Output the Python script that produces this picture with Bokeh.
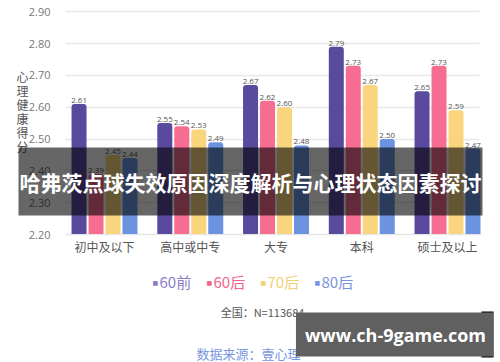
import numpy as np
from bokeh.plotting import figure
from bokeh.models import Range1d, FixedTicker, NumeralTickFormatter, Label, ColumnDataSource
from bokeh.core.properties import value
from bokeh.embed import file_html
from bokeh.resources import INLINE

categories = ["初中及以下", "高中或中专", "大专", "本科", "硕士及以上"]
series = ["60前", "60后", "70后", "80后"]
v60q = [2.61, 2.55, 2.67, 2.79, 2.65]
v60h = [2.39, 2.54, 2.62, 2.73, 2.73]
v70h = [2.45, 2.53, 2.60, 2.67, 2.59]
v80h = [2.44, 2.49, 2.48, 2.50, 2.47]
yticks = [2.2, 2.3, 2.4, 2.5, 2.6, 2.7, 2.8, 2.9]
values = [v60q, v60h, v70h, v80h]
colors = ["#5A4A9E", "#F76D92", "#F9D67E", "#6B93E0"]
legend_colors = ["#8B7CC8", "#F2648C", "#F3CF78", "#7896DE"]

FONT = "Noto Sans CJK SC"
W, H = 500, 362
# plot-area geometry (pixels) of the chart part
PL, PR, PB = 65, 479, 234
XPX = 85.75       # pixels per category
YPX = 318.3       # pixels per score unit
BASE = 2.20
X0 = -0.455 - PL / XPX
X1 = X0 + W / XPX
Y1 = BASE + PB / YPX
Y0 = Y1 - H / YPX

p = figure(width=W, height=H, output_backend="svg", toolbar_location=None,
           x_range=Range1d(X0, X1), y_range=Range1d(Y0, Y1),
           min_border_left=0, min_border_right=0, min_border_top=0, min_border_bottom=0)
p.outline_line_color = None
p.background_fill_color = "white"
p.border_fill_color = "white"

def dx(px):
    return X0 + px / XPX

def dy(py):
    return Y1 - py / YPX

xs = np.arange(len(categories))
stride = 0.198
bw = 0.175
for i, (vals, col) in enumerate(zip(values, colors)):
    off = (i - 1.5) * stride
    src = ColumnDataSource(dict(x=xs + off, top=vals, lab=[f"{v:.2f}" for v in vals]))
    p.vbar(x="x", top="top", bottom=BASE, width=bw, source=src, fill_color=col,
           line_color=None, border_radius=dict(top_left=3, top_right=3, bottom_left=0, bottom_right=0))
    p.text(x="x", y="top", text="lab", source=src, y_offset=-1, text_align="center",
           text_baseline="bottom", text_font_size="8px", text_color="#555555",
           text_font=value("Open Sans"))

# axes, fixed inside the canvas
p.yaxis.fixed_location = dx(PL)
p.yaxis.ticker = FixedTicker(ticks=yticks)
p.yaxis.formatter = NumeralTickFormatter(format="0.00")
p.yaxis.axis_line_color = None
p.yaxis.major_tick_line_color = None
p.yaxis.minor_tick_line_color = None
p.yaxis.major_label_text_font = "Open Sans"
p.yaxis.major_label_text_font_size = "11px"
p.yaxis.major_label_text_color = "#777777"
p.yaxis.major_label_standoff = 9

p.xaxis.fixed_location = BASE
p.xaxis.bounds = (dx(PL), dx(PR))
p.xaxis.ticker = FixedTicker(ticks=list(xs))
p.xaxis.major_label_overrides = {int(i): c for i, c in zip(xs, categories)}
p.xaxis.axis_line_color = "#e6e6e6"
p.xaxis.major_tick_line_color = None
p.xaxis.minor_tick_line_color = None
p.xaxis.major_label_text_font = FONT
p.xaxis.major_label_text_font_size = "12px"
p.xaxis.major_label_text_color = "#555555"
p.xaxis.major_label_standoff = -3

p.xgrid.grid_line_color = None
p.ygrid.grid_line_color = "#e8e8e8"
p.ygrid.grid_line_width = 1.5
p.ygrid.cross_bounds = (dx(PL), dx(PR))

# vertical y-axis title
p.add_layout(Label(x=dx(22), y=dy(111), text="\n".join("心理健康得分"), text_align="center",
                   text_baseline="middle", text_font=FONT, text_font_size="12px",
                   text_color="#555555", text_line_height=0.83))

# legend
for i, (s, lc) in enumerate(zip(series, legend_colors)):
    bx = 152 + i * 54
    p.add_layout(Label(x=dx(bx), y=dy(282), text="■", text_align="left", text_baseline="middle",
                       text_font="DejaVu Sans", text_font_size="6px", text_color=lc))
    p.add_layout(Label(x=dx(bx + 7), y=dy(281), text=s, text_align="left", text_baseline="middle",
                       text_font=FONT, text_font_size="15px", text_color=lc))

p.add_layout(Label(x=dx(262), y=dy(311), text="全国：N=113684", text_align="center",
                   text_baseline="middle", text_font=FONT, text_font_size="11px", text_color="#555555"))
p.add_layout(Label(x=dx(248), y=dy(353), text="数据来源：壹心理", text_align="center",
                   text_baseline="middle", text_font=FONT, text_font_size="13px", text_color="#7896DE"))

# overlay banner
p.add_layout(Label(x=dx(250), y=dy(181), text="哈弗茨点球失效原因深度解析与心理状态因素探讨",
                   text_align="center", text_baseline="middle", text_font=FONT,
                   text_font_size="21px", text_font_style="bold", text_color="white",
                   background_fill_color="black", background_fill_alpha=0.6,
                   padding=dict(left=1, right=1, top=19, bottom=19)))

# watermark
p.add_layout(Label(x=dx(487), y=dy(334), text="   ", text_align="center", text_baseline="middle",
                   text_font=FONT, text_font_size="18px", text_color="black",
                   background_fill_color="black", padding=dict(left=0, right=0, top=10, bottom=10)))
p.add_layout(Label(x=dx(394), y=dy(334), text="www.ch-9game.com", text_align="center",
                   text_baseline="middle", text_font="Open Sans", text_font_size="18px",
                   text_font_style="bold", text_color="white",
                   background_fill_color="#606060", padding=dict(left=9, right=7, top=10, bottom=10)))

open("out.html", "w").write(file_html(p, INLINE))
